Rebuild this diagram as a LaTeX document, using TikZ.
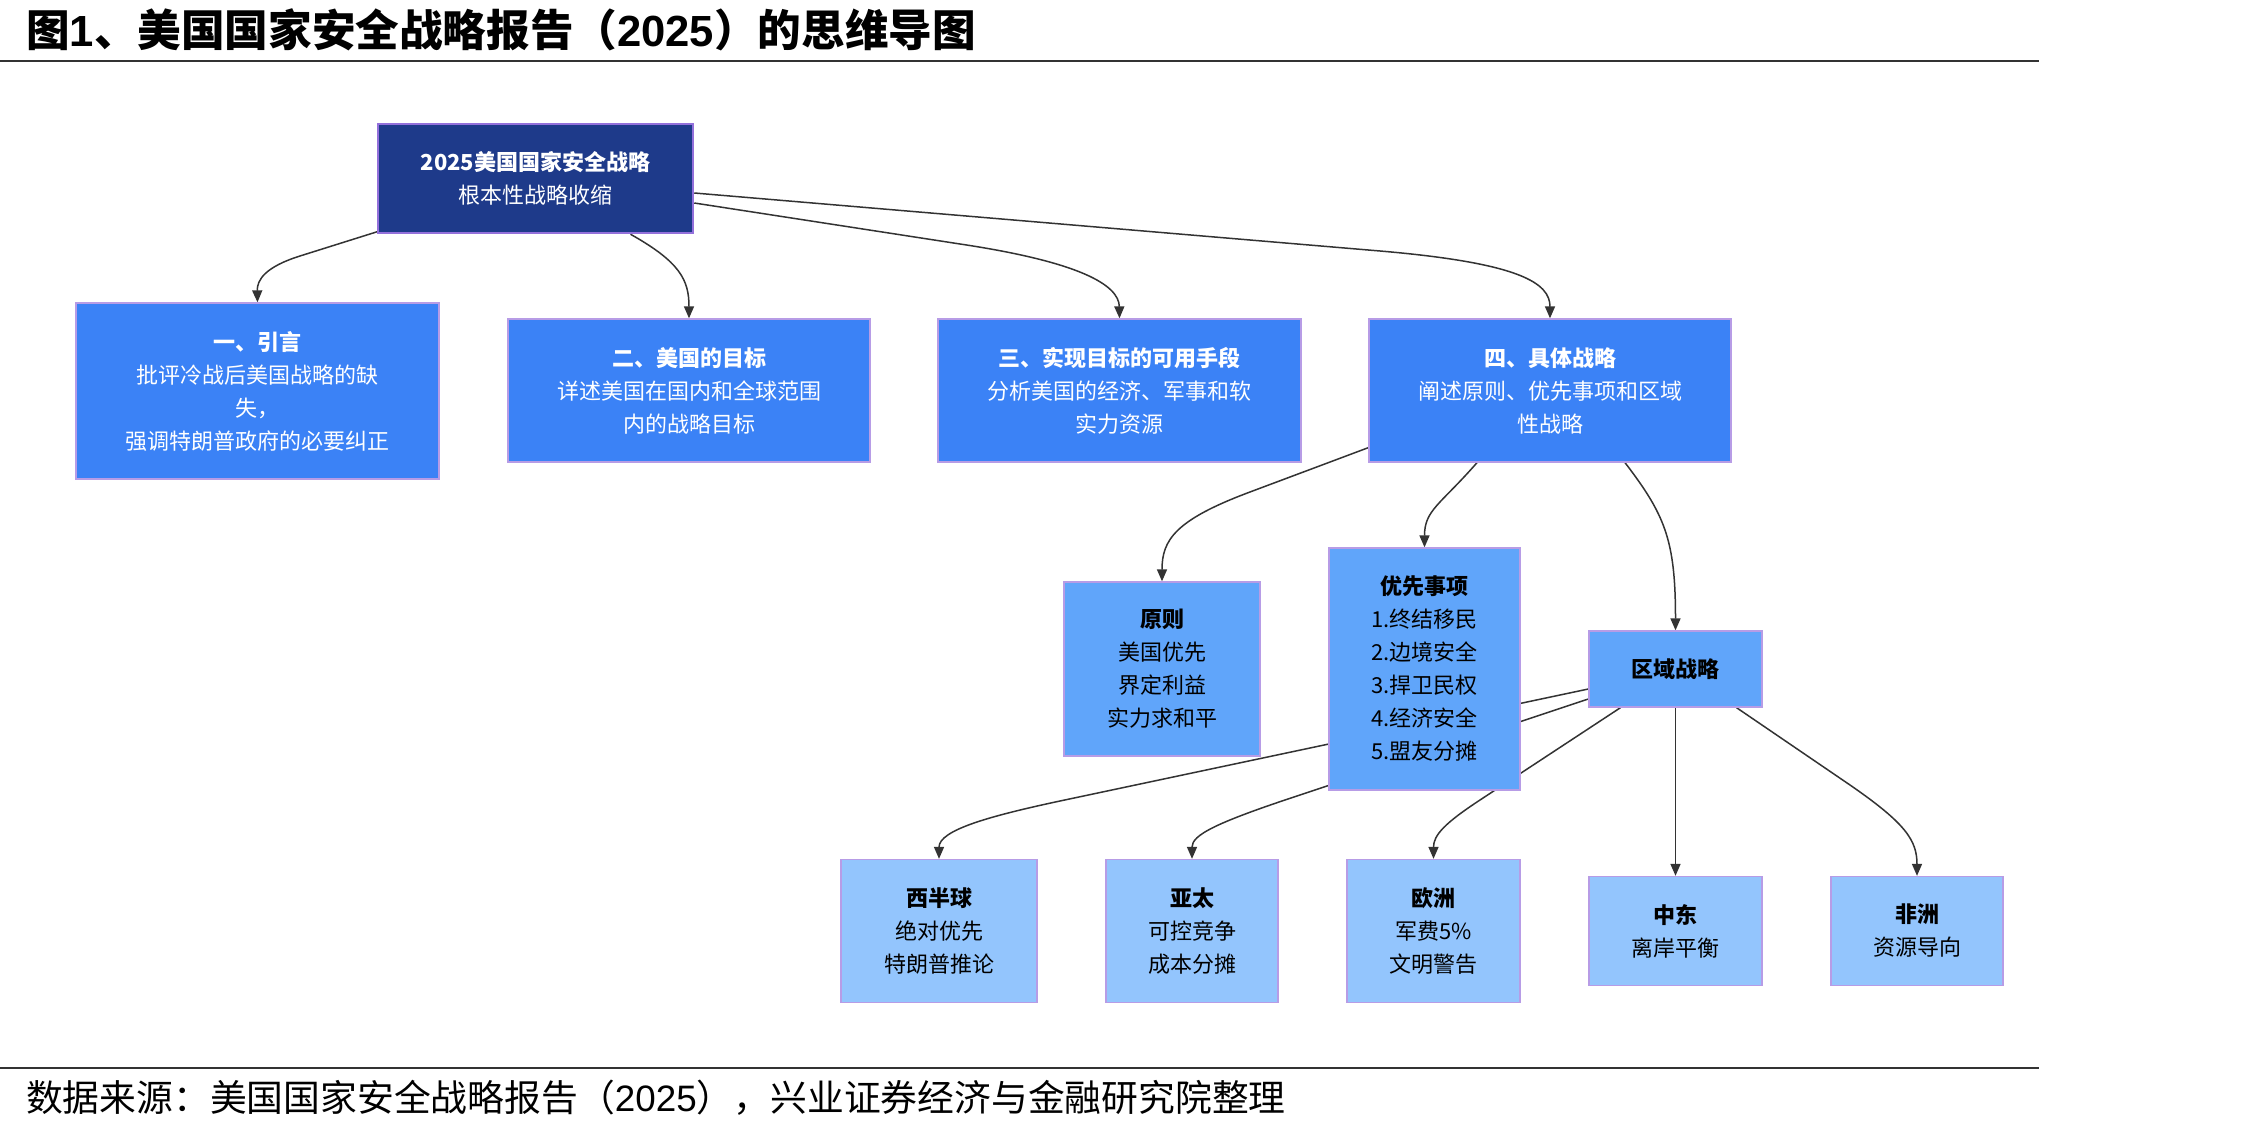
\documentclass[tikz,border=0pt]{standalone}
\usepackage{fontspec}
\setmainfont{Noto Sans CJK SC}
\newfontfamily\arialf{Liberation Sans}
\usetikzlibrary{arrows.meta}
\definecolor{navy}{HTML}{1E3A8A}
\definecolor{lvone}{HTML}{3B82F6}
\definecolor{lvtwo}{HTML}{60A5FA}
\definecolor{lvthree}{HTML}{93C5FD}
\definecolor{rootborder}{HTML}{9370DB}
\definecolor{boxborder}{HTML}{B79CE6}
\definecolor{edgegray}{HTML}{333333}
\definecolor{rulegray}{HTML}{333333}
\pgfdeclarelayer{bg}
\pgfsetlayers{bg,main}
\begin{document}
\begin{tikzpicture}[x=1pt,y=-1pt,
  box/.style={draw=boxborder, line width=1.3pt, inner sep=0pt, align=center,
    font=\fontsize{22}{33}\selectfont},
  rootbox/.style={box, fill=navy, draw=rootborder, line width=2.5pt, text=white,
    minimum width=315, minimum height=109},
  lone/.style={box, fill=lvone, text=white, minimum height=143},
  ltwo/.style={box, fill=lvtwo, text=black},
  lthree/.style={box, fill=lvthree, text=black, minimum height=143},
  edge/.style={draw=edgegray, line width=1.5pt, -{Triangle[length=12pt,width=10pt]}}
]
\begin{pgfonlayer}{bg}
\fill[white] (0,0) rectangle (2255,1131);
\end{pgfonlayer}
\useasboundingbox (0,0) rectangle (2255,1131);

% title and footer
\node[anchor=west, inner sep=0pt, font=\fontsize{43.6}{43.6}\selectfont\bfseries] (title) at (26,30)
  {图{\arialf 1}、美国国家安全战略报告（{\arialf 2025}）的思维导图};
\draw[rulegray, line width=1.8pt] (0,61) -- (2039,61);
\draw[rulegray, line width=1.8pt] (0,1068) -- (2039,1068);
\node[anchor=west, inner sep=0pt, font=\fontsize{36.8}{36.8}\selectfont] (footer) at (26,1098)
  {数据来源：美国国家安全战略报告（{\arialf 2025}），兴业证券经济与金融研究院整理};

% nodes
\node[rootbox] (root) at (535.5,178.5) {\textbf{2025美国国家安全战略}\\根本性战略收缩};
\node[lone, minimum width=363, minimum height=176] (b1) at (257.5,391)
  {\textbf{一、引言}\\批评冷战后美国战略的缺\\失，\\强调特朗普政府的必要纠正};
\node[lone, minimum width=362] (b2) at (689,390.5)
  {\textbf{二、美国的目标}\\详述美国在国内和全球范围\\内的战略目标};
\node[lone, minimum width=363] (b3) at (1119.5,390.5)
  {\textbf{三、实现目标的可用手段}\\分析美国的经济、军事和软\\实力资源};
\node[lone, minimum width=362] (b4) at (1550,390.5)
  {\textbf{四、具体战略}\\阐述原则、优先事项和区域\\性战略};

\node[ltwo, minimum width=196, minimum height=174] (yz) at (1162,669)
  {\textbf{原则}\\美国优先\\界定利益\\实力求和平};
\node[ltwo, minimum width=191, minimum height=242] (yx) at (1424.5,669)
  {\textbf{优先事项}\\1.终结移民\\2.边境安全\\3.捍卫民权\\4.经济安全\\5.盟友分摊};
\node[ltwo, minimum width=173, minimum height=76] (qy) at (1675.5,669)
  {\textbf{区域战略}};

\node[lthree, minimum width=196] (xbq) at (939,931) {\textbf{西半球}\\绝对优先\\特朗普推论};
\node[lthree, minimum width=172] (yt) at (1192,931) {\textbf{亚太}\\可控竞争\\成本分摊};
\node[lthree, minimum width=173] (oz) at (1433.5,931) {\textbf{欧洲}\\军费5\%\\文明警告};
\node[lthree, minimum width=173, minimum height=109] (zd) at (1675.5,931) {\textbf{中东}\\离岸平衡};
\node[lthree, minimum width=172, minimum height=109] (fz) at (1917,931) {\textbf{非洲}\\资源导向};

% edges
\begin{pgfonlayer}{bg}
\draw[edge] ([shift={(2,-3)}]root.south west) -- (300,256) .. controls (265,267) and (257,280) .. (b1.north);
\draw[edge] ([xshift=95pt]root.south) .. controls (680,262) and (689,280) .. (b2.north);
\draw[edge] ([shift={(0,24.5)}]root.east) -- (960,244) .. controls (1080,262) and (1119,285) .. (b3.north);
\draw[edge] ([shift={(0,14.5)}]root.east) -- (1380,251) .. controls (1520,263) and (1550,283) .. (b4.north);

\draw[edge] ([shift={(0,-15)}]b4.south west) -- (1250,492) .. controls (1175,520) and (1162,540) .. (yz.north);
\draw[edge] ([xshift=-73pt]b4.south) .. controls (1440,505) and (1424.5,510) .. (yx.north);
\draw[edge] ([xshift=75pt]b4.south) .. controls (1665,515) and (1675.5,540) .. (qy.north);

\draw[edge] ([shift={(0,20)}]qy.west) -- (1060,801) .. controls (990,816) and (939,830) .. (xbq.north);
\draw[edge] ([shift={(0,30)}]qy.west) -- (1300,795) .. controls (1215,823) and (1192,835) .. (yt.north);
\draw[edge] ([xshift=-55pt]qy.south) -- (1480,800) .. controls (1445,823) and (1433.5,835) .. (oz.north);
\draw[edge] (qy.south) -- (zd.north);
\draw[edge] ([xshift=61pt]qy.south) -- (1850,785) .. controls (1905,823) and (1917,840) .. (fz.north);
\end{pgfonlayer}
\end{tikzpicture}
\end{document}
